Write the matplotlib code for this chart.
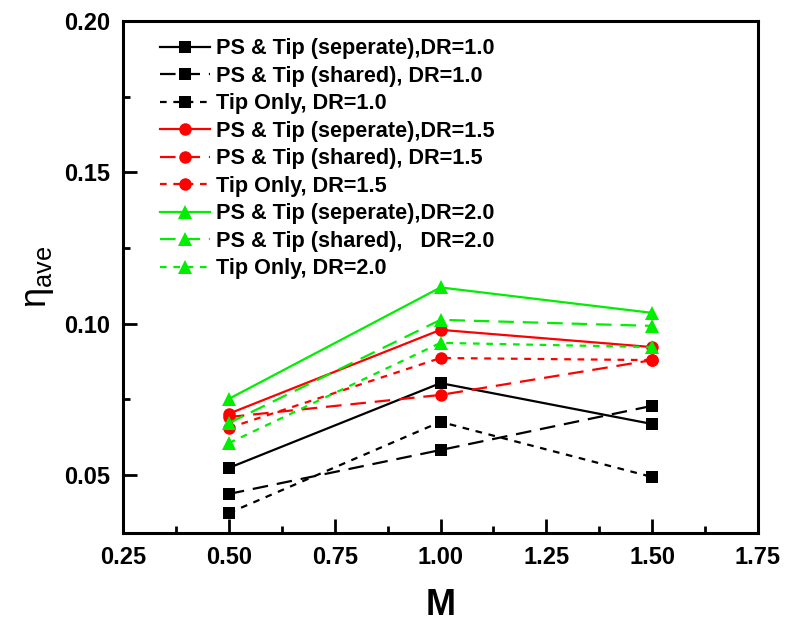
import matplotlib
matplotlib.use("Agg")
import matplotlib.pyplot as plt

plt.rcParams['font.family'] = ['Liberation Sans', 'DejaVu Sans']
plt.rcParams['mathtext.fontset'] = 'custom'
plt.rcParams['mathtext.rm'] = 'Liberation Sans'
plt.rcParams['mathtext.default'] = 'regular'

# data
M = [0.5, 1.0, 1.5]
labels = [
    "PS & Tip (seperate),DR=1.0",
    "PS & Tip (shared), DR=1.0",
    "Tip Only, DR=1.0",
    "PS & Tip (seperate),DR=1.5",
    "PS & Tip (shared), DR=1.5",
    "Tip Only, DR=1.5",
    "PS & Tip (seperate),DR=2.0",
    "PS & Tip (shared),   DR=2.0",
    "Tip Only, DR=2.0",
]
sep_dr10 = [0.0524, 0.0804, 0.0669]
shr_dr10 = [0.0438, 0.0583, 0.0729]
tip_dr10 = [0.0375, 0.0676, 0.0494]
sep_dr15 = [0.0703, 0.0980, 0.0923]
shr_dr15 = [0.0692, 0.0765, 0.0880]
tip_dr15 = [0.0656, 0.0887, 0.0880]
sep_dr20 = [0.0752, 0.1120, 0.1036]
shr_dr20 = [0.0672, 0.1013, 0.0993]
tip_dr20 = [0.0606, 0.0937, 0.0923]
xticks = [0.25, 0.50, 0.75, 1.00, 1.25, 1.50, 1.75]
yticks = [0.05, 0.10, 0.15, 0.20]

series = [sep_dr10, shr_dr10, tip_dr10, sep_dr15, shr_dr15, tip_dr15,
          sep_dr20, shr_dr20, tip_dr20]
colors = ['black'] * 3 + ['#ff0000'] * 3 + ['#00ee00'] * 3
markers = ['s'] * 3 + ['o'] * 3 + ['^'] * 3
msizes = [8.5] * 3 + [9] * 3 + [10] * 3
styles = ['-', (0, (7, 4)), (0, (3, 3))] * 3

fig = plt.figure(figsize=(7.86, 6.22), dpi=100)
ax = fig.add_axes([123 / 786, 89 / 622, 635 / 786, 512 / 622])

for y, c, m, ms, ls, lab in zip(series, colors, markers, msizes, styles, labels):
    ax.plot(M, y, color=c, marker=m, markersize=ms, linestyle=ls,
            linewidth=1.6, markeredgewidth=0, label=lab)

ax.set_xlim(0.25, 1.75)
ax.set_ylim(0.0309, 0.20)
ax.set_xticks(xticks)
ax.set_xticklabels([f"{v:.2f}" for v in xticks])
ax.set_yticks(yticks)
ax.set_yticklabels([f"{v:.2f}" for v in yticks])
ax.set_xticks([0.375, 0.625, 0.875, 1.125, 1.375, 1.625], minor=True)
ax.set_yticks([0.075, 0.125, 0.175], minor=True)
ax.tick_params(which='major', direction='in', length=10, width=2,
               labelsize=17, pad=9)
ax.tick_params(which='minor', direction='in', length=5, width=2)
for lab in ax.get_xticklabels() + ax.get_yticklabels():
    lab.set_fontweight('bold')
for sp in ax.spines.values():
    sp.set_linewidth(2.2)

ax.set_xlabel("M", fontsize=26, fontweight='bold', labelpad=14)
ax.set_ylabel(r"$\eta_{ave}$", fontsize=26, labelpad=6)

leg = ax.legend(loc='upper left', bbox_to_anchor=(0.058, 0.966),
                frameon=False, borderpad=0, borderaxespad=0,
                handlelength=2.3, handletextpad=0.28, labelspacing=0.30,
                prop={'weight': 'bold', 'size': 15.6})

fig.savefig("out.png", dpi=100)
